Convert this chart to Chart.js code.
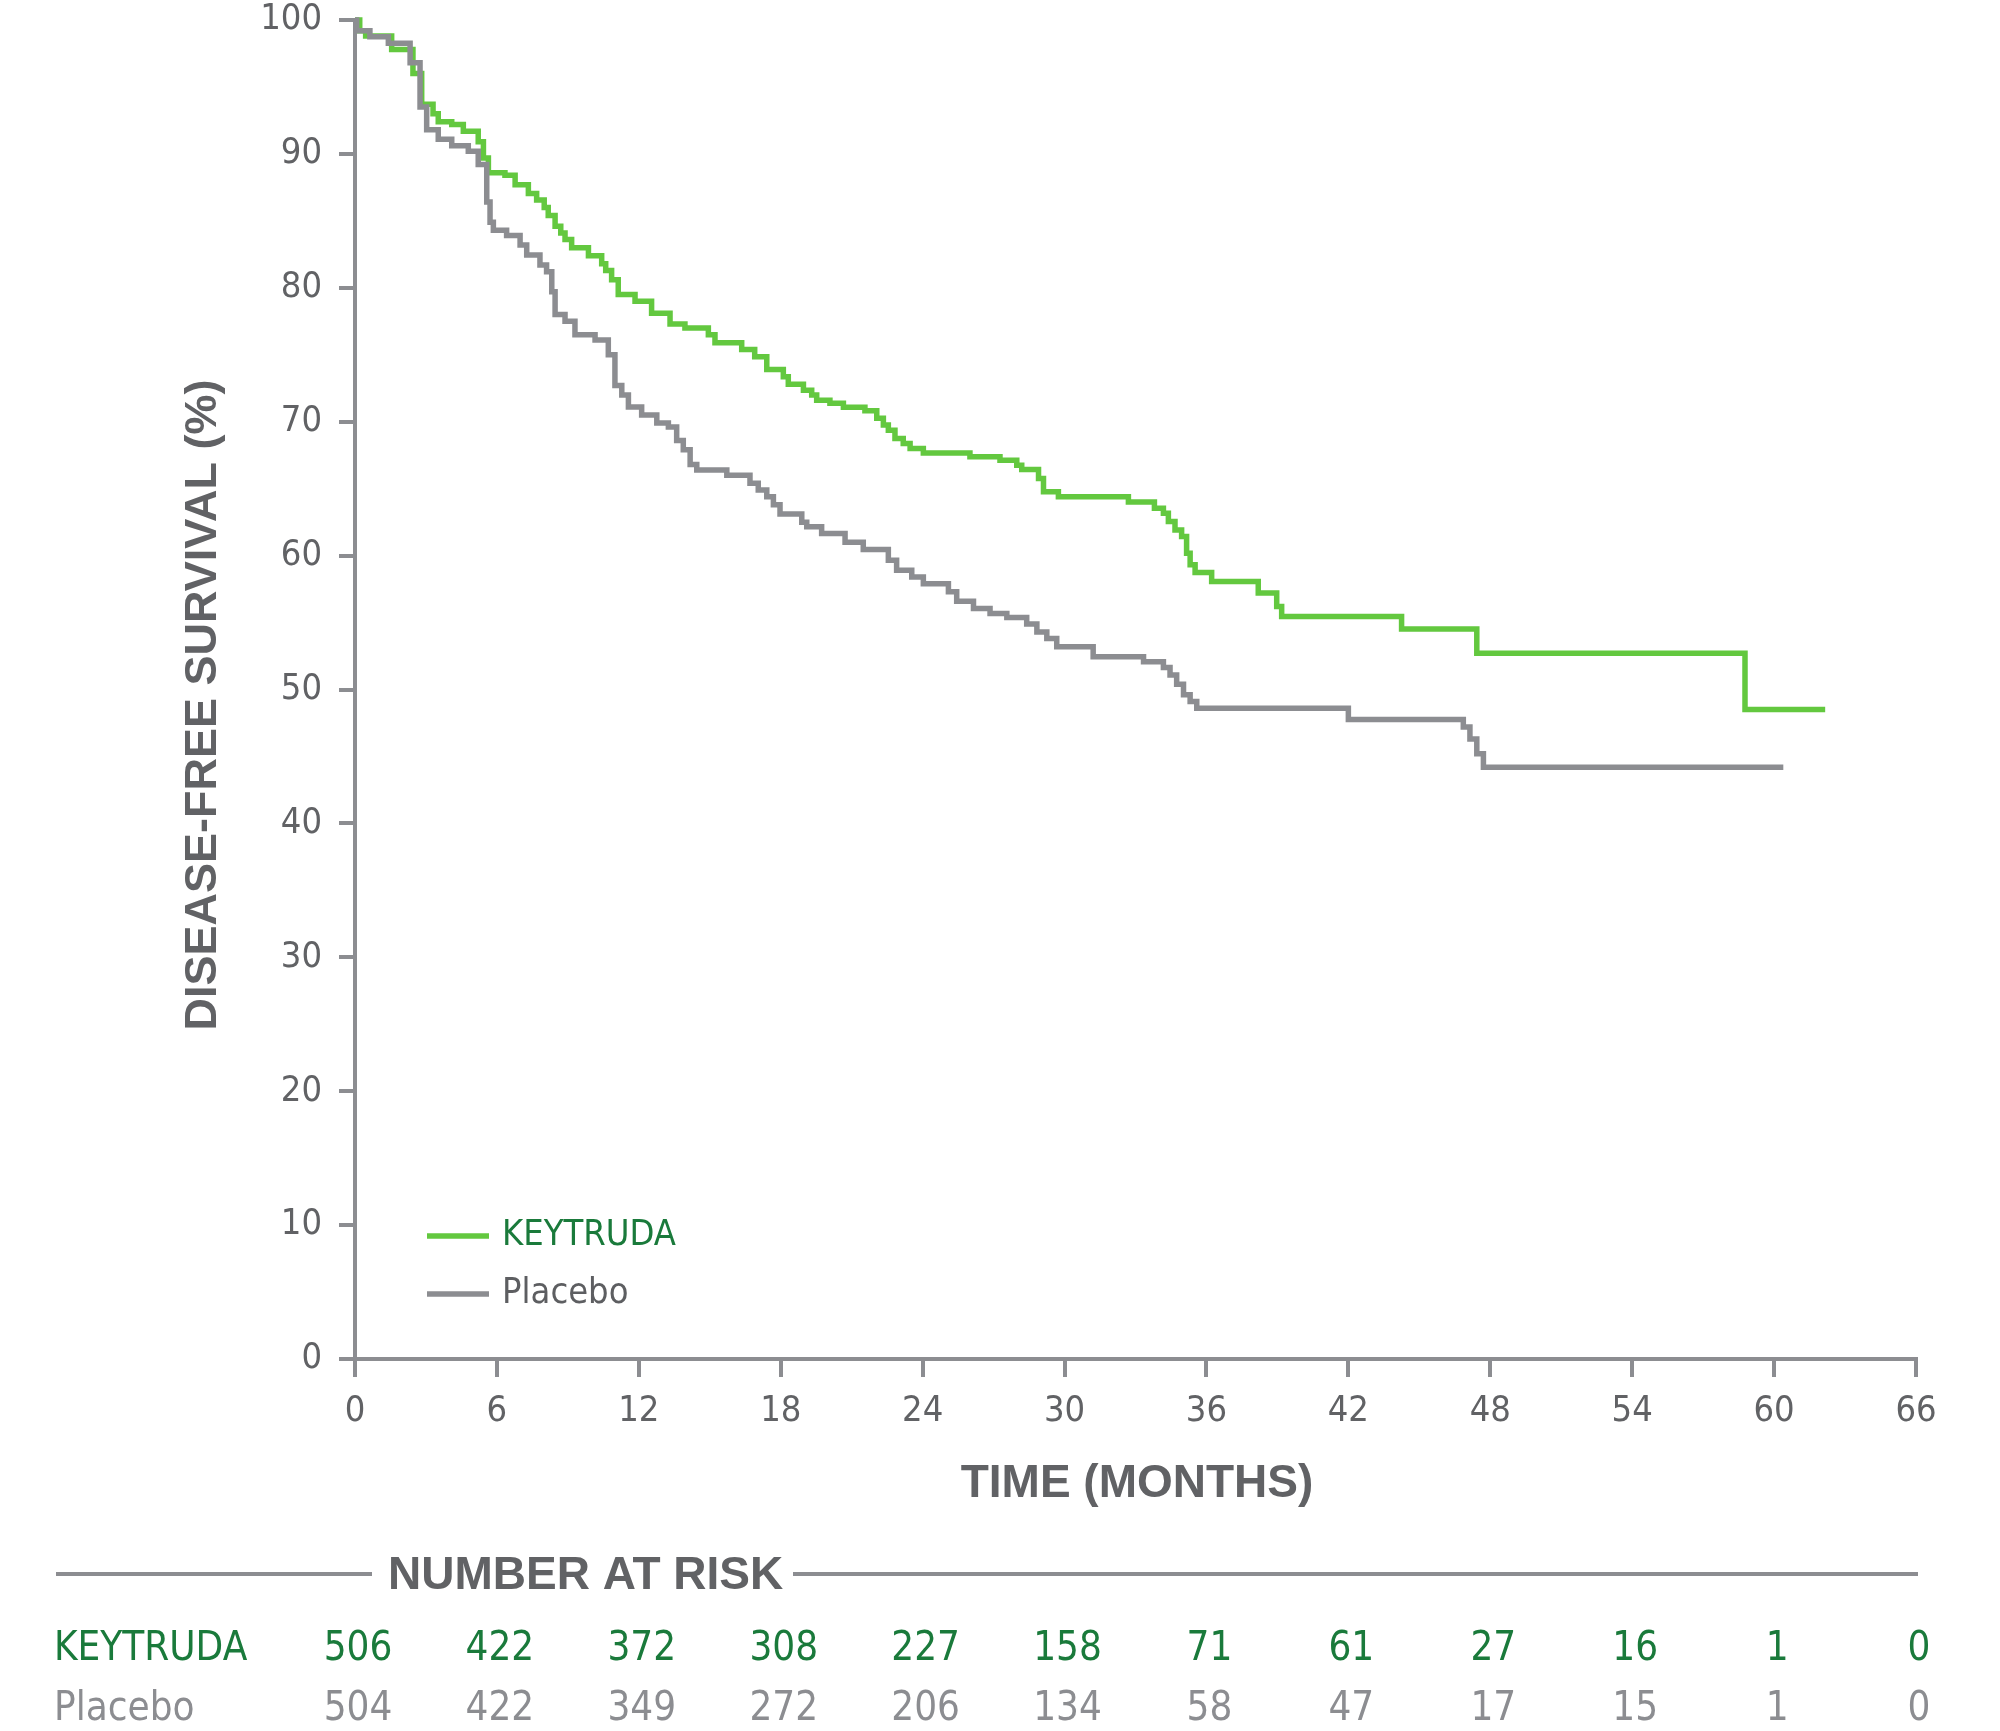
<!DOCTYPE html>
<html>
<head>
<meta charset="utf-8">
<title>Disease-free survival</title>
<script src="https://cdn.jsdelivr.net/npm/chart.js@4.4.1/dist/chart.umd.min.js"></script>
<style>
  html, body { margin: 0; padding: 0; background: #fff; }
  #wrap { width: 2000px; height: 1731px; position: relative; }
</style>
</head>
<body>
<div id="wrap"><canvas id="dfsChart" width="2000" height="1731"></canvas></div>
<script>
// Kaplan-Meier steps: months and disease-free survival (%)
const keytrudaMonths = [0, 0.2, 0.45, 1.55, 2.45, 2.82, 3.3, 3.52, 4.09, 4.58, 5.21, 5.43, 5.64, 6.34, 6.77, 7.33, 7.68, 8.0, 8.17, 8.46, 8.7, 8.88, 9.16, 9.87, 10.43, 10.6, 10.85, 11.13, 11.84, 12.54, 13.32, 13.95, 14.94, 15.22, 16.35, 16.9, 17.41, 18.11, 18.32, 18.96, 19.31, 19.52, 20.08, 20.65, 21.56, 22.06, 22.34, 22.55, 22.83, 23.18, 23.47, 24.03, 26.0, 27.27, 27.98, 28.19, 28.9, 29.11, 29.74, 32.7, 33.8, 34.18, 34.39, 34.67, 34.95, 35.16, 35.31, 35.52, 36.22, 38.19, 38.97, 39.18, 44.25, 47.43, 58.77, 62.16];
const keytrudaDFS = [100, 99.2, 98.8, 97.8, 96.0, 93.7, 93.0, 92.4, 92.2, 91.7, 90.9, 89.7, 88.6, 88.4, 87.7, 87.05, 86.55, 86.0, 85.4, 84.6, 84.1, 83.6, 83.0, 82.4, 81.8, 81.3, 80.6, 79.5, 79.0, 78.1, 77.3, 77.0, 76.5, 75.9, 75.4, 74.85, 73.9, 73.35, 72.8, 72.35, 72.0, 71.6, 71.37, 71.07, 70.82, 70.25, 69.75, 69.37, 68.75, 68.37, 68.0, 67.67, 67.38, 67.13, 66.75, 66.43, 65.76, 64.76, 64.39, 64.0, 63.53, 63.16, 62.54, 61.92, 61.42, 60.18, 59.31, 58.74, 58.07, 57.2, 56.2, 55.46, 54.51, 52.7, 48.5, 48.5];

const placeboMonths = [0, 0.07, 0.63, 1.41, 2.33, 2.75, 3.03, 3.52, 4.09, 4.79, 5.21, 5.57, 5.71, 5.85, 6.41, 6.98, 7.26, 7.82, 8.1, 8.32, 8.46, 8.88, 9.3, 10.15, 10.71, 10.99, 11.28, 11.56, 12.12, 12.76, 13.25, 13.6, 13.88, 14.17, 14.45, 15.72, 16.7, 17.05, 17.41, 17.69, 17.97, 18.89, 19.1, 19.73, 20.72, 21.49, 22.55, 22.9, 23.54, 24.03, 25.09, 25.44, 26.15, 26.85, 27.56, 28.4, 28.83, 29.25, 29.67, 31.21, 33.34, 34.18, 34.46, 34.74, 35.03, 35.31, 35.59, 42.0, 46.86, 47.14, 47.43, 47.71, 60.39];
const placeboDFS = [100, 99.2, 98.75, 98.26, 96.8, 93.5, 91.8, 91.1, 90.6, 90.2, 89.2, 86.4, 84.9, 84.3, 83.9, 83.2, 82.45, 81.7, 81.2, 79.7, 78.0, 77.5, 76.5, 76.1, 75.0, 72.7, 72.0, 71.1, 70.5, 69.9, 69.6, 68.6, 67.9, 66.8, 66.4, 66.0, 65.4, 64.9, 64.4, 63.8, 63.1, 62.5, 62.15, 61.65, 61.0, 60.45, 59.66, 58.9, 58.4, 57.9, 57.3, 56.6, 56.05, 55.67, 55.37, 54.9, 54.3, 53.8, 53.2, 52.45, 52.07, 51.65, 51.08, 50.4, 49.6, 49.1, 48.6, 47.76, 47.2, 46.3, 45.2, 44.2, 44.2];

// number at risk table
const riskMonths = [0, 6, 12, 18, 24, 30, 36, 42, 48, 54, 60, 66];
const riskKeytruda = [506, 422, 372, 308, 227, 158, 71, 61, 27, 16, 1, 0];
const riskPlacebo = [504, 422, 349, 272, 206, 134, 58, 47, 17, 15, 1, 0];

const seriesNames = ["KEYTRUDA", "Placebo"];

const GREEN = "#63c83f";
const GREEN_TEXT = "#1a7a3b";
const GREY = "#8c8d91";
const DARK = "#616265";
const NARROW = "'Liberation Sans Narrow', 'Arial Narrow', 'DejaVu Sans Condensed', sans-serif";
const BOLD = "'Liberation Sans', Arial, sans-serif";

function toPoints(xs, ys) {
    return xs.map((x, i) => ({ x: x, y: ys[i] }));
}

// titles, legend and the number-at-risk table
const decorPlugin = {
    id: "decor",
    afterDraw(chart) {
        const ctx = chart.ctx;
        const xScale = chart.scales.x;
        ctx.save();

        // y axis title
        ctx.fillStyle = DARK;
        ctx.font = "bold 45px " + BOLD;
        ctx.textAlign = "center";
        ctx.textBaseline = "middle";
        ctx.save();
        ctx.translate(204, 705);
        ctx.rotate(-Math.PI / 2);
        ctx.fillText("DISEASE-FREE SURVIVAL (%)", 0, 0);
        ctx.restore();

        // x axis title
        ctx.font = "bold 46px " + BOLD;
        ctx.fillText("TIME (MONTHS)", 1137, 1484);

        // legend
        const legend = [
            { y: 1236, line: GREEN, text: GREEN_TEXT },
            { y: 1294, line: GREY, text: "#5d5e61" }
        ];
        ctx.textAlign = "left";
        ctx.font = "36px " + NARROW;
        legend.forEach((l, i) => {
            ctx.strokeStyle = l.line;
            ctx.lineWidth = 5.5;
            ctx.beginPath();
            ctx.moveTo(427, l.y);
            ctx.lineTo(489, l.y);
            ctx.stroke();
            ctx.fillStyle = l.text;
            ctx.fillText(seriesNames[i], 502, l.y);
        });

        // number at risk header
        ctx.strokeStyle = GREY;
        ctx.lineWidth = 4;
        ctx.beginPath();
        ctx.moveTo(56, 1574);
        ctx.lineTo(372, 1574);
        ctx.moveTo(793, 1574);
        ctx.lineTo(1918, 1574);
        ctx.stroke();
        ctx.fillStyle = DARK;
        ctx.font = "bold 46px " + BOLD;
        ctx.fillText("NUMBER AT RISK", 388, 1576);

        // number at risk rows
        const rows = [
            { y: 1650, values: riskKeytruda, color: GREEN_TEXT },
            { y: 1710, values: riskPlacebo, color: GREY }
        ];
        ctx.font = "40px " + NARROW;
        rows.forEach((r, i) => {
            ctx.fillStyle = r.color;
            ctx.textAlign = "left";
            ctx.fillText(seriesNames[i], 54, r.y);
            ctx.textAlign = "center";
            r.values.forEach((v, j) => {
                ctx.fillText(String(v), xScale.getPixelForValue(riskMonths[j]) + 3, r.y);
            });
        });

        ctx.restore();
    }
};

const canvas = document.getElementById("dfsChart");

new Chart(canvas, {
    type: "line",
    data: {
        datasets: [
            {
                label: seriesNames[0],
                data: toPoints(keytrudaMonths, keytrudaDFS),
                borderColor: GREEN,
                borderWidth: 5.5,
                stepped: true,
                pointRadius: 0,
                fill: false,
                clip: 8,
                order: 2
            },
            {
                label: seriesNames[1],
                data: toPoints(placeboMonths, placeboDFS),
                borderColor: GREY,
                borderWidth: 5.5,
                stepped: true,
                pointRadius: 0,
                fill: false,
                clip: 8,
                order: 1
            }
        ]
    },
    options: {
        responsive: false,
        animation: false,
        devicePixelRatio: 1,
        layout: { padding: { left: 0, top: 20, right: 84, bottom: 0 } },
        plugins: {
            legend: { display: false },
            tooltip: { enabled: false }
        },
        scales: {
            x: {
                type: "linear",
                min: 0,
                max: 66,
                afterFit(scale) {
                    scale.height = 372;
                    scale.paddingLeft = 0;
                    scale.paddingRight = 0;
                },
                ticks: {
                    stepSize: 6,
                    color: DARK,
                    padding: 13,
                    maxRotation: 0,
                    font: { family: NARROW, size: 36 }
                },
                grid: {
                    drawOnChartArea: false,
                    drawTicks: true,
                    tickLength: 18,
                    color: GREY,
                    lineWidth: 4
                },
                border: { display: true, color: GREY, width: 4 }
            },
            y: {
                min: 0,
                max: 100,
                afterFit(scale) {
                    scale.width = 355;
                    scale.paddingTop = 0;
                    scale.paddingBottom = 0;
                },
                ticks: {
                    stepSize: 10,
                    color: DARK,
                    padding: 17,
                    font: { family: NARROW, size: 36 }
                },
                grid: {
                    drawOnChartArea: false,
                    drawTicks: true,
                    tickLength: 16,
                    color: GREY,
                    lineWidth: 4
                },
                border: { display: true, color: GREY, width: 4 }
            }
        }
    },
    plugins: [decorPlugin]
});
</script>
</body>
</html>
